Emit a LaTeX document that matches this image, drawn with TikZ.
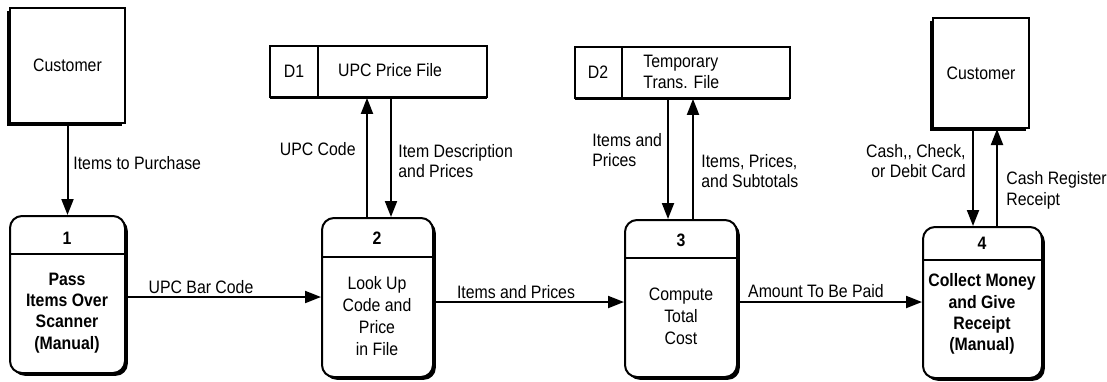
\documentclass[tikz,border=0pt]{standalone}
\usepackage{fontspec}
\setmainfont{Liberation Sans}[FakeStretch=0.88]
\usetikzlibrary{arrows.meta,shadows,fit}
\begin{document}
\begin{tikzpicture}[x=0.5pt,y=-0.5pt,
  every node/.style={font=\fontsize{9}{10.4}\selectfont},
  entity/.style={draw, fill=white, line width=1pt, inner sep=0pt,
    drop shadow={shadow xshift=-1.4pt, shadow yshift=-1.4pt, fill=black, opacity=1}},
  proc/.style={draw, fill=white, line width=1pt, rounded corners=6pt, inner sep=0pt,
    drop shadow={shadow xshift=1.4pt, shadow yshift=-1.4pt, fill=black, opacity=1}},
  store/.style={draw, fill=white, line width=0.9pt, inner sep=0pt,
    drop shadow={shadow xshift=0pt, shadow yshift=-0.8pt, fill=black, opacity=1}},
  flow/.style={line width=1pt, -{Triangle[length=8pt,width=6pt]}},
  lbl/.style={inner sep=0pt},
  pnum/.style={inner sep=0pt, font=\fontsize{9}{10.4}\selectfont\bfseries},
  ptext/.style={inner sep=0pt, align=center},
  divider/.style={line width=0.9pt}]

\useasboundingbox (0,0) rectangle (1107,381);

% external entities
\node[entity, fit={(10,8) (125,123)}] (c1) {};
\node at (c1.center) {Customer};
\node[entity, fit={(933,18) (1029,128)}] (c2) {};
\node at (c2.center) {Customer};

% data stores
\node[store, fit={(270,46) (487,97)}] (d1) {};
\draw[divider] (318,46) -- (318,97);
\node[lbl] at (294,71) {D1};
\node[lbl] at (390,70) {UPC Price File};

\node[store, fit={(575,47) (790,98)}] (d2) {};
\draw[divider] (622,47) -- (622,98);
\node[lbl] at (598,72) {D2};
\node[lbl, align=left, anchor=west] at (643,72) {Temporary\\Trans. File};

% processes
\node[proc, fit={(10,216) (125,373)}] (p1) {};
\draw[divider] (p1.west |- 0,254) -- (p1.east |- 0,254);
\node[pnum] at (67,238) {1};
\node[ptext, font=\fontsize{9}{10.6}\selectfont\bfseries] at (67,313) {Pass\\Items Over\\Scanner\\(Manual)};

\node[proc, fit={(322,218) (433,377)}] (p2) {};
\draw[divider] (p2.west |- 0,257) -- (p2.east |- 0,257);
\node[pnum] at (377,238) {2};
\node[ptext, font=\fontsize{9}{11}\selectfont] at (377,316) {Look Up\\Code and\\Price\\in File};

\node[proc, fit={(625,220) (737,377)}] (p3) {};
\draw[divider] (p3.west |- 0,258) -- (p3.east |- 0,258);
\node[pnum] at (681,240) {3};
\node[ptext, font=\fontsize{9}{11}\selectfont] at (681,316) {Compute\\Total\\Cost};

\node[proc, fit={(923,227) (1042,378)}] (p4) {};
\draw[divider] (p4.west |- 0,260) -- (p4.east |- 0,260);
\node[pnum] at (982,243) {4};
\node[ptext, font=\fontsize{9}{10.6}\selectfont\bfseries] at (982,314) {Collect Money\\and Give\\Receipt\\(Manual)};

% data flows
\draw[flow] (c1) -- (p1);
\node[lbl, anchor=west] at (73,163) {Items to Purchase};

\draw[flow] (p1.east |- 0,297) -- (p2.west |- 0,297);
\node[lbl] at (201,287) {UPC Bar Code};

\draw[flow] (p2.north -| 367,0) -- (d1.south -| 367,0);
\node[lbl, anchor=east] at (356,149) {UPC Code};
\draw[flow] (d1.south -| 391,0) -- (p2.north -| 391,0);
\node[lbl, align=left, anchor=west] at (398,161) {Item Description\\and Prices};

\draw[flow] (p2.east |- 0,302) -- (p3.west |- 0,302);
\node[lbl] at (516,292) {Items and Prices};

\draw[flow] (d2.south -| 668,0) -- (p3.north -| 668,0);
\node[lbl, align=left, anchor=west] at (592,150) {Items and\\Prices};
\draw[flow] (p3.north -| 693,0) -- (d2.south -| 693,0);
\node[lbl, align=left, anchor=west] at (701,171) {Items, Prices,\\and Subtotals};

\draw[flow] (p3.east |- 0,302) -- (p4.west |- 0,302);
\node[lbl] at (816,291) {Amount To Be Paid};

\draw[flow] (c2.south -| 973,0) -- (p4.north -| 973,0);
\node[lbl, align=right, anchor=east] at (966,161) {Cash,{}, Check,\\or Debit Card};
\draw[flow] (p4.north -| 997,0) -- (c2.south -| 997,0);
\node[lbl, align=left, anchor=west] at (1006,190) {Cash Register\\Receipt};

\end{tikzpicture}
\end{document}
